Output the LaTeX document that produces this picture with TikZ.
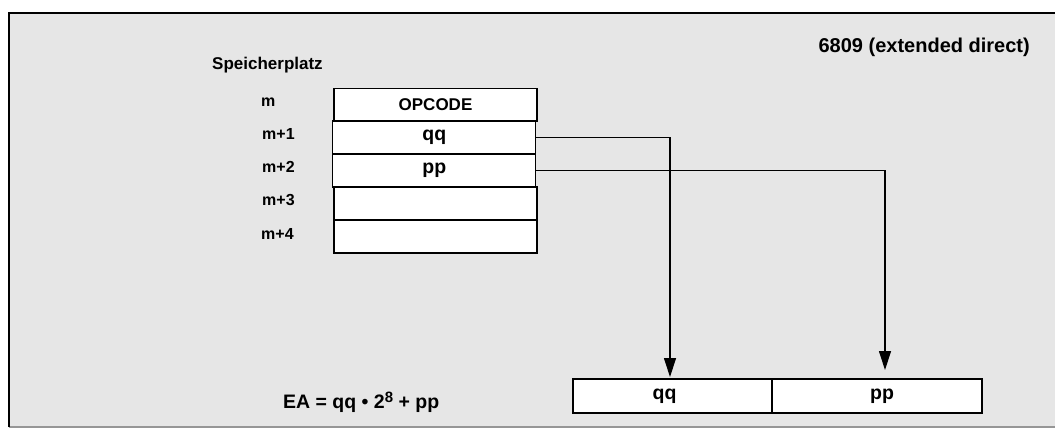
\documentclass[tikz,border=0pt]{standalone}
\usepackage{fontspec}
\setmainfont{Liberation Sans}
\usetikzlibrary{arrows.meta}
\definecolor{panel}{RGB}{230,230,230}
\definecolor{rimgray}{RGB}{150,150,150}
\tikzset{
  cell/.style={draw=black, fill=white, line width=1.2pt, minimum width=203pt, minimum height=33pt, inner sep=0pt, font=\fontsize{17}{20}\selectfont\bfseries},
  bigcell/.style={cell, font=\fontsize{19.5}{22}\selectfont\bfseries},
  outcell/.style={draw=black, fill=white, line width=1.2pt, minimum height=34pt, inner sep=0pt, font=\fontsize{19.5}{22}\selectfont\bfseries},
  addr/.style={anchor=west, inner sep=0pt, font=\fontsize{16}{18}\selectfont\bfseries},
  lbl/.style={inner sep=0pt, font=\fontsize{17}{20}\selectfont\bfseries},
  conn/.style={draw=black, line width=1.2pt},
  arr/.style={conn, -{Triangle[length=19pt,width=12pt]}}
}
\begin{document}
\begin{tikzpicture}[x=1pt,y=-1pt]
\useasboundingbox (0,0) rectangle (1055,428);
% panel
\fill[panel] (9,13) rectangle (1060,427);
\draw[rimgray, line width=1.5pt] (9,427) -- (1060,427);
\draw[black, line width=1.5pt] (9,427) -- (9,13) -- (1060,13);
% title
\node[lbl, anchor=east, font=\fontsize{20}{24}\selectfont\bfseries] (title) at (1030,47) {6809 (extended direct)};
\node[lbl, anchor=west] (sp) at (212,65) {Speicherplatz};
% address labels
\node[addr] (a0) at (261,102) {m};
\node[addr] (a1) at (262,134) {m+1};
\node[addr] (a2) at (262,167) {m+2};
\node[addr] (a3) at (262,200) {m+3};
\node[addr] (a4) at (261,234) {m+4};
% memory cells
\node[cell] (op) at (435.5,105) {OPCODE};
\node[cell] (m3) at (435.5,203.5) {};
\node[cell] (m4) at (435.5,236.5) {};
\node[bigcell] (qq) at (434.25,137.5) {qq};
\node[bigcell] (pp) at (434.25,170.5) {pp};
% target register
\node[outcell, minimum width=199pt] (qqb) at (672.5,396) {\hspace*{-16pt}qq};
\node[outcell, minimum width=210pt] (ppb) at (877,396) {\hspace*{10pt}pp};
% connectors
\coordinate (t1) at (670,377);
\coordinate (t2) at (885,370);
\draw[arr] (qq.east) -| (t1);
\draw[arr] (pp.east) -| (t2);
% formula
\node[lbl, anchor=west, font=\fontsize{19.5}{22}\selectfont\bfseries] (ea) at (283,402) {EA = qq • 2\raisebox{6pt}{\fontsize{15}{16}\selectfont 8} + pp};
\end{tikzpicture}
\end{document}
